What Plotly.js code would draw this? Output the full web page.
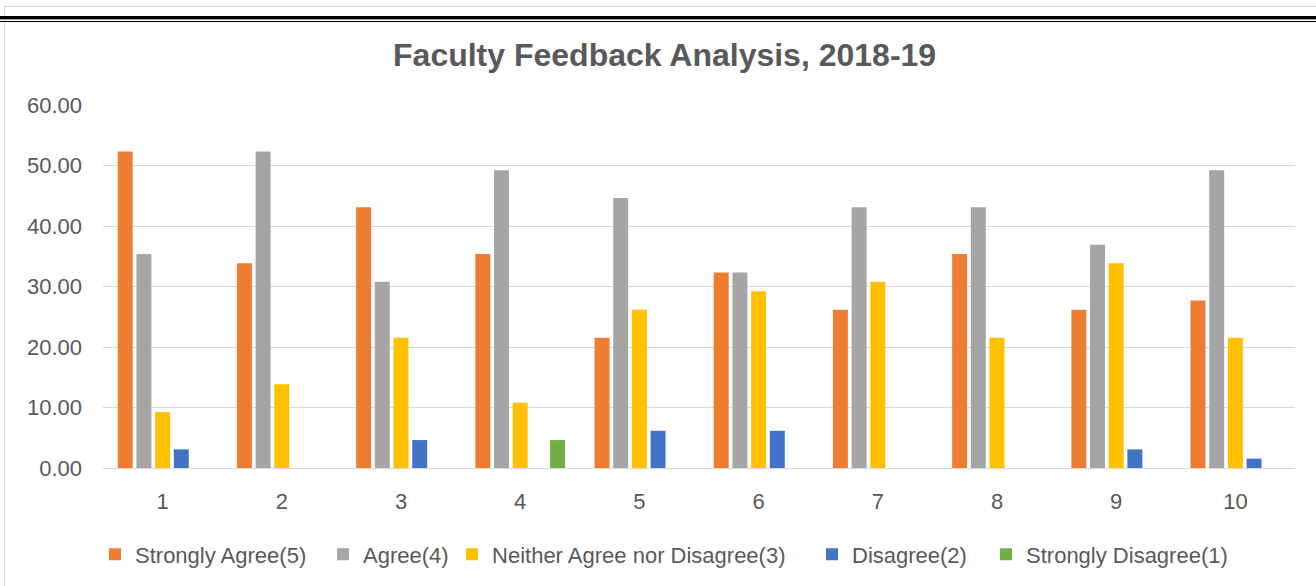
<!DOCTYPE html>
<html>
<head>
<meta charset="utf-8">
<script src="https://cdn.plot.ly/plotly-3.0.1.min.js"></script>
<style>
  html, body { margin: 0; padding: 0; background: #ffffff; }
  #wrap { position: relative; width: 1316px; height: 586px; overflow: hidden; }
  #chart { position: absolute; left: 0; top: 0; width: 1316px; height: 586px; }
  .deco { position: absolute; pointer-events: none; }
</style>
</head>
<body>
<div id="wrap">
  <div id="chart"></div>
  <div class="deco" style="left:4px; top:6px; width:1312px; height:1px; background:#d9d9d9;"></div>
  <div class="deco" style="left:4px; top:6px; width:1px; height:580px; background:#d9d9d9;"></div>
  <div class="deco" style="left:0; top:16px; width:1316px; height:3px; background:#000;"></div>
  <div class="deco" style="left:0; top:19px; width:1316px; height:1px; background:#9a9a9a;"></div>
  <div class="deco" style="left:0; top:21px; width:1316px; height:1px; background:#000;"></div>
</div>
<script>
const categories = ["1", "2", "3", "4", "5", "6", "7", "8", "9", "10"];
const seriesNames = ["Strongly Agree(5)", "Agree(4)", "Neither Agree nor Disagree(3)", "Disagree(2)", "Strongly Disagree(1)"];
const stronglyAgree = [52.31, 33.85, 43.08, 35.38, 21.54, 32.31, 26.15, 35.38, 26.15, 27.69];
const agree = [35.38, 52.31, 30.77, 49.23, 44.62, 32.31, 43.08, 43.08, 36.92, 49.23];
const neither = [9.23, 13.85, 21.54, 10.77, 26.15, 29.23, 30.77, 21.54, 33.85, 21.54];
const disagree = [3.08, 0, 4.62, 0, 6.15, 6.15, 0, 0, 3.08, 1.54];
const stronglyDisagree = [0, 0, 0, 4.62, 0, 0, 0, 0, 0, 0];
const yTicks = [0, 10, 20, 30, 40, 50, 60];

const colors = ["#ED7D31", "#A5A5A5", "#FFC000", "#4472C4", "#70AD47"];
const values = [stronglyAgree, agree, neither, disagree, stronglyDisagree];
const legendIds = ["legend", "legend2", "legend3", "legend4", "legend5"];
const legendX = [-0.0067, 0.1846, 0.2928, 0.5948, 0.7408];

const FONT = "'Liberation Sans', Arial, sans-serif";
const TXT = "#595959";

const traces = values.map((v, i) => ({
  type: "bar",
  name: seriesNames[i],
  x: categories,
  y: v,
  legend: legendIds[i],
  marker: { color: colors[i], line: { width: 0 } },
  hoverinfo: "x+y+name"
}));

const layout = {
  width: 1316,
  height: 586,
  paper_bgcolor: "rgba(0,0,0,0)",
  plot_bgcolor: "#ffffff",
  margin: { l: 103, r: 21, t: 105, b: 117, pad: 0 },
  barmode: "group",
  bargap: 0.216,
  bargroupgap: 0.2,
  font: { family: FONT, color: TXT, size: 22 },
  title: {
    text: "<b>Faculty Feedback Analysis, 2018-19</b>",
    font: { family: FONT, size: 32, color: TXT },
    x: 0.505, xref: "container", xanchor: "center",
    y: 0.906, yref: "container", yanchor: "middle"
  },
  xaxis: {
    type: "category",
    showgrid: false,
    showline: false,
    ticks: "",
    tickfont: { family: FONT, size: 22, color: TXT },
    ticklabelstandoff: 18,
    zeroline: false
  },
  yaxis: {
    range: [0, 60],
    tickvals: yTicks,
    tickformat: ".2f",
    showgrid: true,
    gridcolor: "#D9D9D9",
    gridwidth: 1,
    zeroline: true,
    zerolinecolor: "#D9D9D9",
    zerolinewidth: 1,
    showline: false,
    ticks: "",
    tickfont: { family: FONT, size: 22, color: TXT },
    ticklabelstandoff: 20
  },
  showlegend: true
};

legendIds.forEach((id, i) => {
  layout[id] = {
    orientation: "h",
    x: legendX[i], xanchor: "left",
    y: -0.235, yanchor: "middle",
    font: { family: FONT, size: 22, color: TXT },
    bgcolor: "rgba(0,0,0,0)",
    itemwidth: 30
  };
});

Plotly.newPlot("chart", traces, layout, { displayModeBar: false, staticPlot: true });
</script>
</body>
</html>
